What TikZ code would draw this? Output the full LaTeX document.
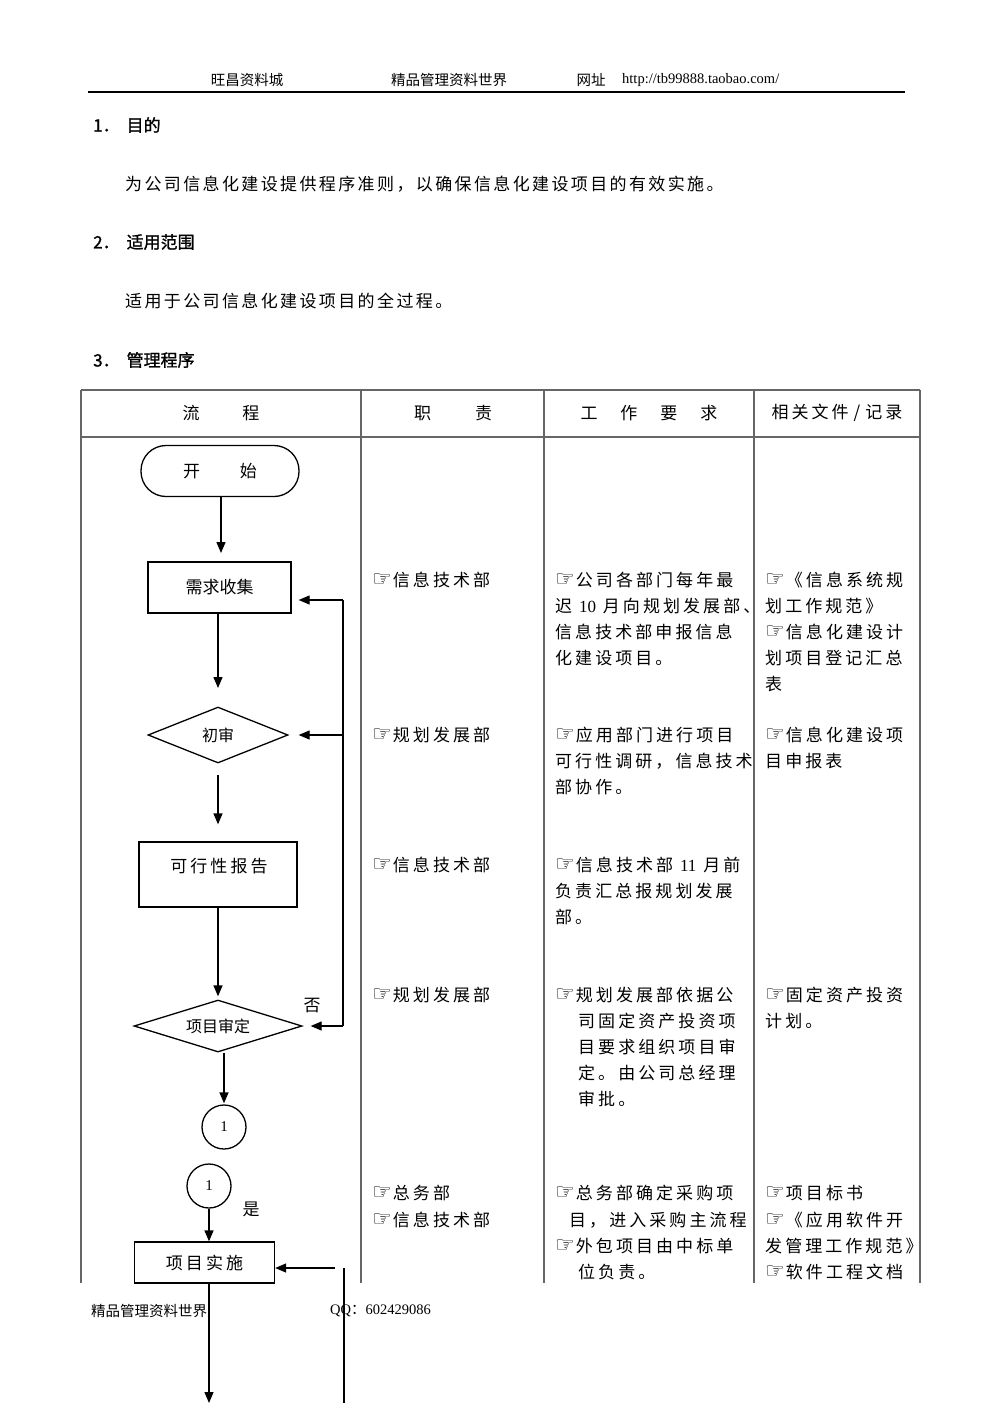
\documentclass[tikz,border=0pt]{standalone}
\usepackage{fontspec}
\setmainfont{Liberation Serif}
\newfontfamily\cjk{Noto Sans CJK SC}
\newfontfamily\cjkb{Noto Sans CJK SC}[FakeBold=1.2]
\newfontfamily\cjkbody{Noto Sans CJK SC}[LetterSpace=14]
\newfontfamily\cjktab{Noto Sans CJK SC}[LetterSpace=18]
\newfontfamily\dv{DejaVu Sans}
\usetikzlibrary{arrows.meta,shapes.geometric}
\newcommand\hd{\smash{\dv\fontsize{22}{22}\selectfont ☞}\hspace{1pt}}
\newcommand\tline[4]{\node[txt] (#1) at (#2,#3) {#4};}
\begin{document}
\begin{tikzpicture}[x=1pt,y=-1pt,
  txt/.style={anchor=west,inner sep=0pt,font=\cjktab\fontsize{17}{17}\selectfont},
  hdr/.style={inner sep=0pt,font=\cjk\fontsize{14.5}{14.5}\selectfont},
  tbl/.style={draw=black!60,line width=1.1pt},
  flow/.style={draw=black,line width=1.3pt},
  boxn/.style={flow,rectangle,inner sep=0pt,font=\cjk\fontsize{17}{17}\selectfont},
  dia/.style={flow,diamond,inner sep=0pt,font=\cjk\fontsize{16}{16}\selectfont},
  conn/.style={flow,circle,inner sep=0pt,minimum size=44pt,font=\fontsize{15}{15}\selectfont},
  arr/.style={black,line width=1.3pt,-{Triangle[length=11pt,width=9pt]}},
  lbl/.style={inner sep=0pt,font=\cjk\fontsize{17}{17}\selectfont},
  head/.style={anchor=west,inner sep=0pt,font=\cjkb\fontsize{17}{17}\selectfont}]
\useasboundingbox (0,0) rectangle (992,1403);
\fill[white] (0,0) rectangle (992,1403);
% page header
\node[hdr] (h1) at (247,80) {旺昌资料城};
\node[hdr] (h2) at (449,80) {精品管理资料世界};
\node[hdr] (h3) at (591,80) {网址};
\node[hdr,anchor=west,font=\fontsize{14.5}{14.5}\selectfont] (h4) at (622,80) {http://tb99888.taobao.com/};
\draw[black,line width=1.4pt] (88,92) -- (905,92);
% headings and body
\node[head] (s1) at (93,125) {1．\hspace{7pt}目的};
\node[anchor=west,inner sep=0pt,font=\cjkbody\fontsize{17}{17}\selectfont] (b1) at (125,184) {为公司信息化建设提供程序准则，以确保信息化建设项目的有效实施。};
\node[head] (s2) at (93,242) {2．\hspace{7pt}适用范围};
\node[anchor=west,inner sep=0pt,font=\cjkbody\fontsize{17}{17}\selectfont] (b2) at (125,301) {适用于公司信息化建设项目的全过程。};
\node[head] (s3) at (93,360) {3．\hspace{7pt}管理程序};
% table
\draw[tbl] (81,390) -- (920,390);
\draw[tbl] (81,437) -- (920,437);
\foreach \xx in {81,361,544,754,920} {\draw[tbl] (\xx,390) -- (\xx,1283);}
\node[lbl] (c1h) at (221,413) {流\hspace{43pt}程};
\node[lbl] (c2h) at (453,413) {职\hspace{44pt}责};
\node[lbl] (c3h) at (649,413) {工\hspace{23pt}作\hspace{23pt}要\hspace{23pt}求};
\node[lbl,font=\cjktab\fontsize{17}{17}\selectfont] (c4h) at (837,413) {相关文件\hspace{5pt}/\hspace{5pt}记录};
% flowchart
\node[boxn,rounded corners=25pt,minimum width=158pt,minimum height=51pt] (ks) at (220,471) {开\hspace{40pt}始};
\node[boxn,minimum width=143pt,minimum height=51pt] (xq) at (219.5,587.5) {需求收集};
\node[dia,aspect=2.5,minimum width=140pt,minimum height=56pt] (cs) at (218,735) {初审};
\coordinate (csb) at (218,775);
\node[boxn,minimum width=158pt,minimum height=65pt] (kx) at (218,874.5) {};
\node[lbl,font=\cjktab\fontsize{17}{17}\selectfont] (kxt) at (219,866) {可行性报告};
\node[dia,aspect=3.2,minimum width=168pt,minimum height=52pt] (sd) at (218,1026) {项目审定};
\node[conn] (o1) at (224,1127) {1};
\node[conn] (o2) at (209,1186) {1};
\node[boxn,minimum width=140pt,minimum height=41pt,font=\cjktab\fontsize{17}{17}\selectfont] (ss) at (204.5,1262.5) {项目实施};
\node[lbl] (no) at (312,1006) {否};
\node[lbl] (yes) at (251,1209) {是};
\draw[arr,shorten >=9pt] (ks.south -| 221,0) -- (221,562);
\draw[arr,shorten >=19pt] (218,613) -- (218,707);
\draw[arr,shorten >=17pt] (csb) -- (csb |- kx.north);
\draw[arr,shorten >=3pt] (kx.south) -- (kx.south |- sd.north);
\draw[arr,shorten >=1pt] (o1.north |- sd.south) -- (o1.north);
\draw[arr] (o2.south) -- (o2.south |- ss.north);
% feedback loop
\coordinate (fbt) at (343,600);
\coordinate (fbm) at (343,735);
\coordinate (fbb) at (343,1026);
\draw[flow] (fbt) -- (fbb);
\draw[arr,shorten >=7pt] (fbt) -- (fbt -| xq.east);
\draw[arr,shorten >=10pt] (fbm) -- (cs.east);
\draw[arr,shorten >=8pt] (fbb) -- (sd.east);
% lower loop
\coordinate (lt) at (335,1268);
\coordinate (lv) at (344,1268);
\coordinate (lvb) at (344,1410);
\coordinate (sb) at (209,1403);
\draw[arr] (lt) -- (lt -| ss.east);
\draw[flow] (lv) -- (lvb);
\draw[arr] (ss.south -| sb) -- (sb);
% responsibility column
\tline{r1}{372}{580}{\hd 信息技术部}
\tline{r2}{372}{735}{\hd 规划发展部}
\tline{r3}{372}{865}{\hd 信息技术部}
\tline{r4}{372}{995}{\hd 规划发展部}
\tline{r5}{372}{1193}{\hd 总务部}
\tline{r6}{372}{1220}{\hd 信息技术部}
% work requirement column
\tline{w1}{555}{580}{\hd 公司各部门每年最}
\tline{w2}{555}{606}{迟 {\fontspec{Liberation Serif}\fontsize{17}{17}\selectfont 10} 月向规划发展部、}
\tline{w3}{555}{632}{信息技术部申报信息}
\tline{w4}{555}{658}{化建设项目。}
\tline{w5}{555}{735}{\hd 应用部门进行项目}
\tline{w6}{555}{761}{可行性调研，信息技术}
\tline{w7}{555}{787}{部协作。}
\tline{w8}{555}{865}{\hd 信息技术部 {\fontspec{Liberation Serif}\fontsize{17}{17}\selectfont 11} 月前}
\tline{w9}{555}{891}{负责汇总报规划发展}
\tline{w10}{555}{917}{部。}
\tline{w11}{555}{995}{\hd 规划发展部依据公}
\tline{w12}{578}{1021}{司固定资产投资项}
\tline{w13}{578}{1047}{目要求组织项目审}
\tline{w14}{578}{1073}{定。由公司总经理}
\tline{w15}{578}{1099}{审批。}
\tline{w16}{555}{1193}{\hd 总务部确定采购项}
\tline{w17}{569}{1220}{目，进入采购主流程}
\tline{w18}{555}{1246}{\hd 外包项目由中标单}
\tline{w19}{578}{1272}{位负责。}
% documents column
\tline{d1}{765}{580}{\hd 《信息系统规}
\tline{d2}{765}{606}{划工作规范》}
\tline{d3}{765}{632}{\hd 信息化建设计}
\tline{d4}{765}{658}{划项目登记汇总}
\tline{d5}{765}{684}{表}
\tline{d6}{765}{735}{\hd 信息化建设项}
\tline{d7}{765}{761}{目申报表}
\tline{d8}{765}{995}{\hd 固定资产投资}
\tline{d9}{765}{1021}{计划。}
\tline{d10}{765}{1193}{\hd 项目标书}
\tline{d11}{765}{1220}{\hd 《应用软件开}
\tline{d12}{765}{1246}{发管理工作规范》}
\tline{d13}{765}{1272}{\hd 软件工程文档}
% footer
\node[hdr,anchor=west] (f1) at (91,1311) {精品管理资料世界};
\node[hdr,anchor=west] (f2) at (330,1311) {{\fontspec{Liberation Serif}QQ}：{\fontspec{Liberation Serif}602429086}};
\end{tikzpicture}
\end{document}
